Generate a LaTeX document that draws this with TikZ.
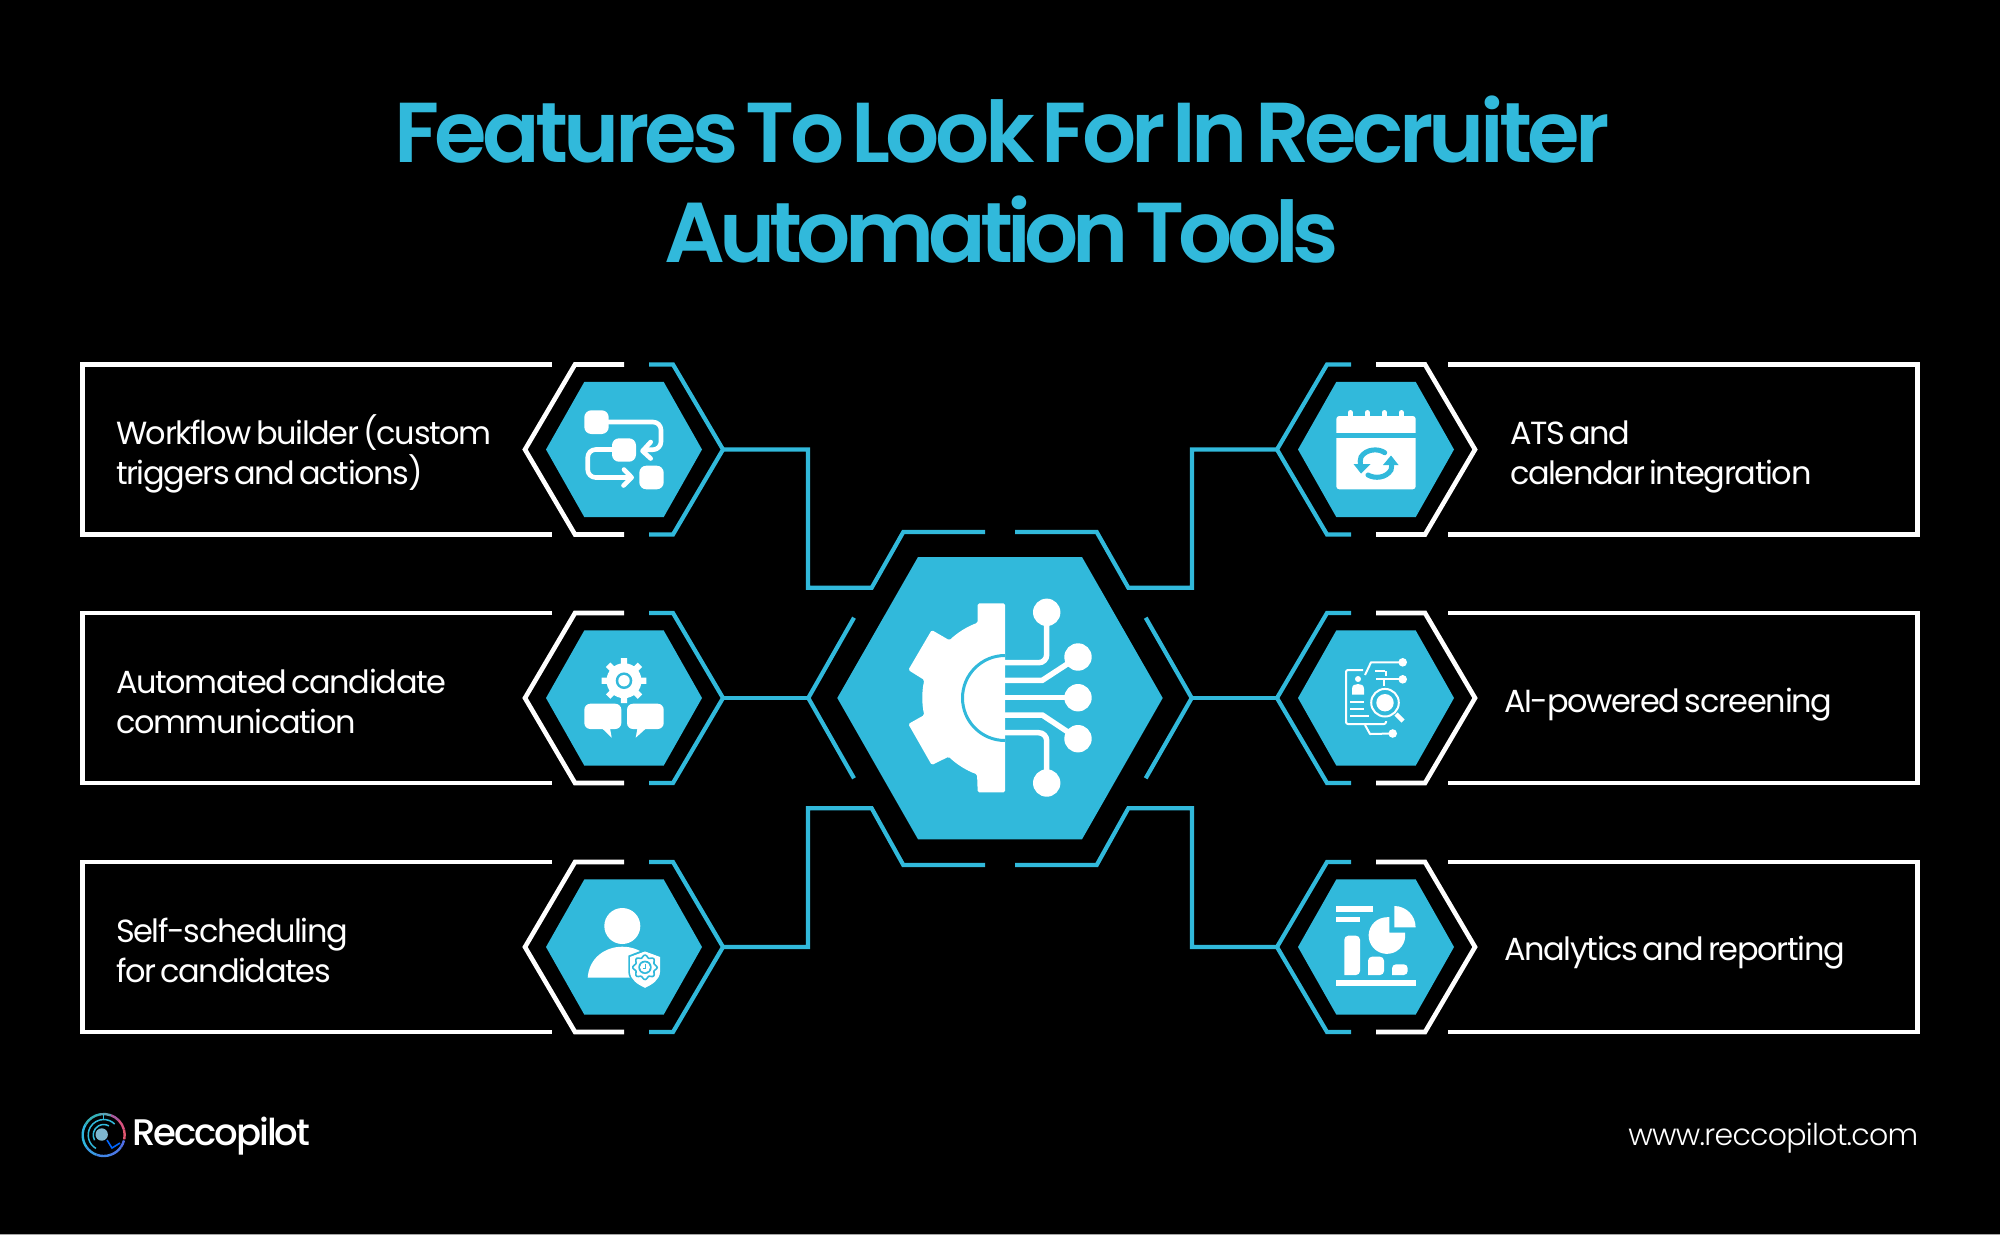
\documentclass[tikz,border=0pt]{standalone}
\usepackage{fontspec}
\setmainfont{Poppins}
\newfontfamily\titlefont[LetterSpace=-5.5,WordSpace=0.45]{Poppins SemiBold}
\newfontfamily\titletight[LetterSpace=-7,WordSpace=0.45]{Poppins SemiBold}
\newfontfamily\bodyfont[LetterSpace=-4.2,WordSpace=0.6]{Poppins}
\newfontfamily\logofont[LetterSpace=-5.5]{Poppins Medium}
\newfontfamily\urlfont[LetterSpace=-2.4]{Poppins Light}
\definecolor{brand}{HTML}{31B9DB}
\usetikzlibrary{calc}
\tikzset{
  wline/.style={draw=white,line width=4.6pt,miter limit=10},
  cline/.style={draw=brand,line width=4.2pt,miter limit=10},
  hexfill/.style={fill=brand,draw=none},
  wfill/.style={fill=white,draw=none},
  label/.style={inner sep=0pt,outer sep=0pt,text=white,anchor=base west,align=left,
     font=\bodyfont\fontsize{32}{40}\selectfont},
  pics/frame/.style={code={
    \draw[wline] (-72,-85) -- (-541.5,-85) -- (-541.5,85) -- (-72,85);
    \draw[wline] (0,-85) -- (-49,-85) -- (-99,0) -- (-49,85) -- (0,85);
    \draw[cline] (25,-85) -- (49,-85) -- (99,0) -- (49,85) -- (25,85);
    \fill[hexfill] (-78,0) -- (-39.7,-67.6) -- (39.7,-67.6) -- (78,0) -- (39.7,67.6) -- (-39.7,67.6) -- cycle;
    \coordinate (-port) at (99,0);
  }},
}
\begin{document}
\begin{tikzpicture}[x=1pt,y=-1pt]
\useasboundingbox (0,0) rectangle (2000,1235);
\fill[black] (0,0) rectangle (2000,1235);
\fill[gray!70] (0,1234) rectangle (2000,1235);

% title
\node[inner sep=0pt,anchor=base,text=brand,font=\titlefont\fontsize{85}{100}\selectfont,align=center] (title) at (1002,262)
  {Features To Look For In Recruiter\\{\titletight Automation Tools}};

% frames
\pic (wf) at (624,449.5) {frame};
\pic (ac) at (624,698) {frame};
\pic (ss) at (624,947) {frame};
\pic[xscale=-1] (ats) at (1376,449.5) {frame};
\pic[xscale=-1] (ai) at (1376,698) {frame};
\pic[xscale=-1] (an) at (1376,947) {frame};

% hub
\fill[hexfill] (837.3,698) -- (918,557) -- (1082,557) -- (1162.7,698) -- (1082,839.3) -- (918,839.3) -- cycle;
\coordinate (hubW) at (808.3,698);
\coordinate (hubE) at (1191.7,698);
\draw[cline] (854,617.7) -- (hubW) -- (854,778.3);
\draw[cline] (1145.7,617.7) -- (hubE) -- (1145.7,778.3);
% connectors
\draw[cline] (wf-port) -- (808,449.5) -- (808,587.7) -- (871.7,587.7) -- (903.3,532) -- (985,532);
\draw[cline] (ats-port) -- (1192,449.5) -- (1192,587.7) -- (1128.3,587.7) -- (1096.7,532) -- (1015,532);
\draw[cline] (ss-port) -- (808,947) -- (808,808.3) -- (871.7,808.3) -- (903.3,865) -- (985,865);
\draw[cline] (an-port) -- (1192,947) -- (1192,808.3) -- (1128.3,808.3) -- (1096.7,865) -- (1015,865);
\draw[cline] (ac-port) -- (hubW);
\draw[cline] (ai-port) -- (hubE);

% hub icon
\fill[wfill,rounded corners=1.5pt] (1005,603.3) -- (977.7,603.3) -- (977.7,622.7) arc[radius=81,start angle=-110,end angle=-133.7]
  -- (931.7,630) -- (908.3,670) -- (924.3,680) arc[radius=81,start angle=-167.4,end angle=-192.4]
  -- (908.3,724) -- (931.7,765) -- (948.7,756.7) arc[radius=81,start angle=133.8,end angle=110]
  -- (977.7,792.3) -- (1005,792.3) -- cycle;
\draw[draw=brand,line width=3pt] (1005,655.5) arc[radius=42.5,start angle=-90,end angle=-270];
\begin{scope}[line width=5.5pt,draw=white]
\draw[white,rounded corners=8pt] (1005,662.7) -- (1046.7,662.7) -- (1046.7,612.3);
\draw[white] (1005,680.3) -- (1042.3,680.3) -- (1078,657);
\draw[white] (1005,697.7) -- (1078,697.7);
\draw[white] (1005,715) -- (1042.3,715) -- (1078,738.7);
\draw[white,rounded corners=8pt] (1005,732.7) -- (1046.7,732.7) -- (1046.7,783);
\end{scope}
\fill[wfill] (1046.7,612.3) circle[radius=13.7] (1078,657) circle[radius=13.7] (1078,697.7) circle[radius=13.7] (1078,738.7) circle[radius=13.7] (1046.7,783) circle[radius=13.7];

% icon workflow
\fill[wfill,rounded corners=7pt] (584.3,410.3) rectangle (608.7,434);
\fill[wfill,rounded corners=7pt] (612,438.3) rectangle (636,461.7);
\fill[wfill,rounded corners=7pt] (639.3,465.7) rectangle (663.7,489.3);
\begin{scope}[white,line width=4.6pt,line cap=round,line join=round]
\draw[rounded corners=8pt] (608,422) -- (661,422) -- (661,449.7) -- (645,449.7);
\draw (650.7,442) -- (642.5,451) -- (650.7,458.5);
\draw[rounded corners=8pt] (612,449.5) -- (587.7,449.5) -- (587.7,477.5) -- (630,477.5);
\draw (624,469.5) -- (631.7,477.5) -- (623.5,485.5);
\end{scope}

% icon gear & bubbles
\fill[wfill,even odd rule] (624,680.7) circle[radius=8.3]
  \foreach \a in {0,45,...,315}{ ($(624,680.7)+(\a-11:16.5)$) -- ($(624,680.7)+(\a-8:22.7)$) -- ($(624,680.7)+(\a+8:22.7)$) -- ($(624,680.7)+(\a+11:16.5)$) -- ($(624,680.7)+(\a+34:16.5)$) -- cycle };
\fill[wfill] (624,680.7) circle[radius=17.5];
\fill[brand] (624,680.7) circle[radius=8.3];
\fill[wfill] (624,680.7) circle[radius=5.7];
\fill[wfill,rounded corners=6pt] (584.3,703.7) rectangle (621.3,729);
\fill[wfill] (601.7,728) -- (611.7,737.7) -- (610,728) -- cycle;
\fill[wfill,rounded corners=6pt] (627,703.7) rectangle (663.7,729);
\fill[wfill] (637.5,728) -- (635.7,737.7) -- (646.5,728) -- cycle;

% icon person
\fill[wfill] (622.3,926) circle[radius=18];
\fill[wfill] (587.7,977.7) .. controls (589,958) and (605,946.7) .. (622.3,946.7) .. controls (640,946.7) and (655,958) .. (656.7,977.7) -- cycle;
\path[fill=white,draw=brand,line width=2.5pt] (645,950.5) -- (660.5,956.5) -- (660.5,972) .. controls (660,980) and (652,985) .. (645,988.5) .. controls (638,985) and (630,980) .. (629.5,972) -- (629.5,956.5) -- cycle;
\fill[brand] (645,977) -- (630,988) -- (628,978) -- (625,980) -- cycle;
\fill[brand] (610,978) rectangle (630,990);
\path[fill=white,draw=white,line width=1pt] (645,952) -- (659.5,957.3) -- (659.5,972) .. controls (659,979.5) and (652,984) .. (645,987.3) .. controls (638,984) and (631,979.5) .. (630.5,972) -- (630.5,957.3) -- cycle;
\draw[brand,line width=1.6pt,line join=round] plot[smooth cycle,samples=48,domain=0:345] ({645+(11+1.3*cos(8*\x))*cos(\x)},{967.3+(11+1.3*cos(8*\x))*sin(\x)});
\fill[brand] (645,967.3) circle[radius=6.7];
\fill[wfill] (645,967.3) circle[radius=5];
\draw[brand,line width=1pt] (645.5,963.5) -- (645.5,968.3) -- (642.5,968.3);

% icon calendar
\fill[wfill,rounded corners=3pt] (1336.3,416) rectangle (1415.7,489.3);
\foreach \x in {1350.3,1367.3,1384.3,1401.3} \draw[white,line width=5pt,line cap=round] (\x,412.5) -- (\x,418);
\fill[brand] (1336.3,433.3) rectangle (1415.7,438.3);
\begin{scope}[brand,line width=5pt]
\draw[line cap=round] (1384.7,452.7) .. controls (1378,448) and (1366,449) .. (1361,457) .. controls (1360,460) and (1360,462) .. (1360.5,465);
\fill (1353.5,464) -- (1370.5,464) -- (1361,473.5) -- cycle;
\draw[line cap=round] (1368,475) .. controls (1375,479) and (1386,478) .. (1391,470) .. controls (1392,466) and (1391.5,462) .. (1391,460);
\fill (1383,465) -- (1398.5,465) -- (1391,455.5) -- cycle;
\end{scope}

% icon AI screening
\begin{scope}[white,line width=2pt,line join=round]
\draw[rounded corners=2pt] (1363,670) -- (1346,670) -- (1346,724) -- (1386,724) -- (1386,721);
\draw (1385,670.5) -- (1374.5,670.5);
\draw (1386,676) -- (1386,671);
\draw (1365,675) -- (1371,662.3) -- (1402.7,662.3);
\draw (1376,679.3) -- (1402.7,679.3);
\draw (1384,679.3) -- (1384,686);
\draw (1365,725) -- (1370,734) -- (1392.7,733.5);
\draw (1350,701.7) -- (1364,701.7);
\draw (1350,708.7) -- (1364,708.7);
\draw (1350,716) -- (1368.7,716);
\draw (1385,702.7) circle[radius=13.8];
\draw[line width=4.5pt] (1396,714) -- (1403,721);
\end{scope}
\fill[wfill] (1385,702.7) circle[radius=8.7] (1402.7,662.3) circle[radius=4.3] (1402.7,679.3) circle[radius=4.3] (1392.7,733.5) circle[radius=4.3] (1358,679) circle[radius=3];
\fill[wfill] (1352,694.7) -- (1352,689) .. controls (1352,685) and (1355,684) .. (1358,684) .. controls (1361,684) and (1364,685) .. (1364,689) -- (1364,694.7) -- cycle;

% icon analytics
\fill[wfill] (1336.3,906) rectangle (1373.3,911.7);
\fill[wfill] (1336.3,917.3) rectangle (1360,922.3);
\fill[wfill,rounded corners=4pt] (1344.3,975) -- (1344.3,935.7) -- (1360,935.7) -- (1360,975) [sharp corners] -- cycle;
\fill[wfill,rounded corners=4pt] (1368,975) -- (1368,956.7) -- (1384,956.7) -- (1384,975) [sharp corners] -- cycle;
\fill[wfill,rounded corners=4pt] (1392,975) -- (1392,964.3) -- (1407.7,964.3) -- (1407.7,975) [sharp corners] -- cycle;
\fill[wfill] (1336.3,980.3) rectangle (1415.7,985.7);
\fill[wfill] (1389.3,917) -- (1389.3,932.7) -- (1405,932.7) arc[radius=18.3,start angle=-9,end angle=260] -- cycle;
\fill[wfill] (1394.3,906) arc[radius=21.3,start angle=-90,end angle=0] -- (1394.3,927.3) -- cycle;

% labels
\node[label] (wfl) at (116,484.5) {Workflow builder (custom\\triggers and actions)};
\node[label] (acl) at (116,733) {Automated candidate\\communication};
\node[label] (ssl) at (116,982) {Self-scheduling\\for candidates};
\node[label] (atsl) at (1510,484.5) {ATS and\\calendar integration};
\node[label] (ail) at (1504,712) {AI-powered screening};
\node[label] (anl) at (1504,960) {Analytics and reporting};

% logo
\coordinate (lc) at (103.7,1135);
\foreach \s/\e/\c in {-15/12/E0566F,-45/-15/D9527F,-70/-45/A85A9E,-100/-70/5FA0B0,-150/-100/35B0B8,-215/-150/2FB6E0,-250/-215/3A9BE3,-290/-250/4285E6,-325/-290/4A78E6,-345/-325/4F6FE6}{
  \definecolor{seg}{HTML}{\c}
  \draw[seg,line width=2.4pt] ($(lc)+(\s:21)$) arc[radius=21,start angle=\s,end angle=\e];
}
\draw[draw=brand,line width=1.5pt] ($(lc)+(120:15.5)$) arc[radius=15.5,start angle=120,end angle=315];
\draw[draw=brand,line width=1.5pt] ($(lc)+(150:10.5)$) arc[radius=10.5,start angle=150,end angle=300];
\draw[draw=brand,line width=1.5pt] ($(lc)+(-90:21)$) -- ($(lc)+(-90:15.5)$);
\draw[draw=blue!60!cyan,line width=1.6pt] (107,1140) -- (112,1148) -- (120,1143);
\fill[fill=cyan!35!teal!60!white] (101.7,1134.5) circle[radius=6.2];
\node[inner sep=0pt,anchor=base west,text=white,font=\logofont\fontsize{37}{40}\selectfont] (logo) at (132,1145) {Reccopilot};
\node[inner sep=0pt,anchor=base east,text=white,font=\urlfont\fontsize{30}{36}\selectfont] (url) at (1918.5,1145) {www.reccopilot.com};
\end{tikzpicture}
\end{document}
